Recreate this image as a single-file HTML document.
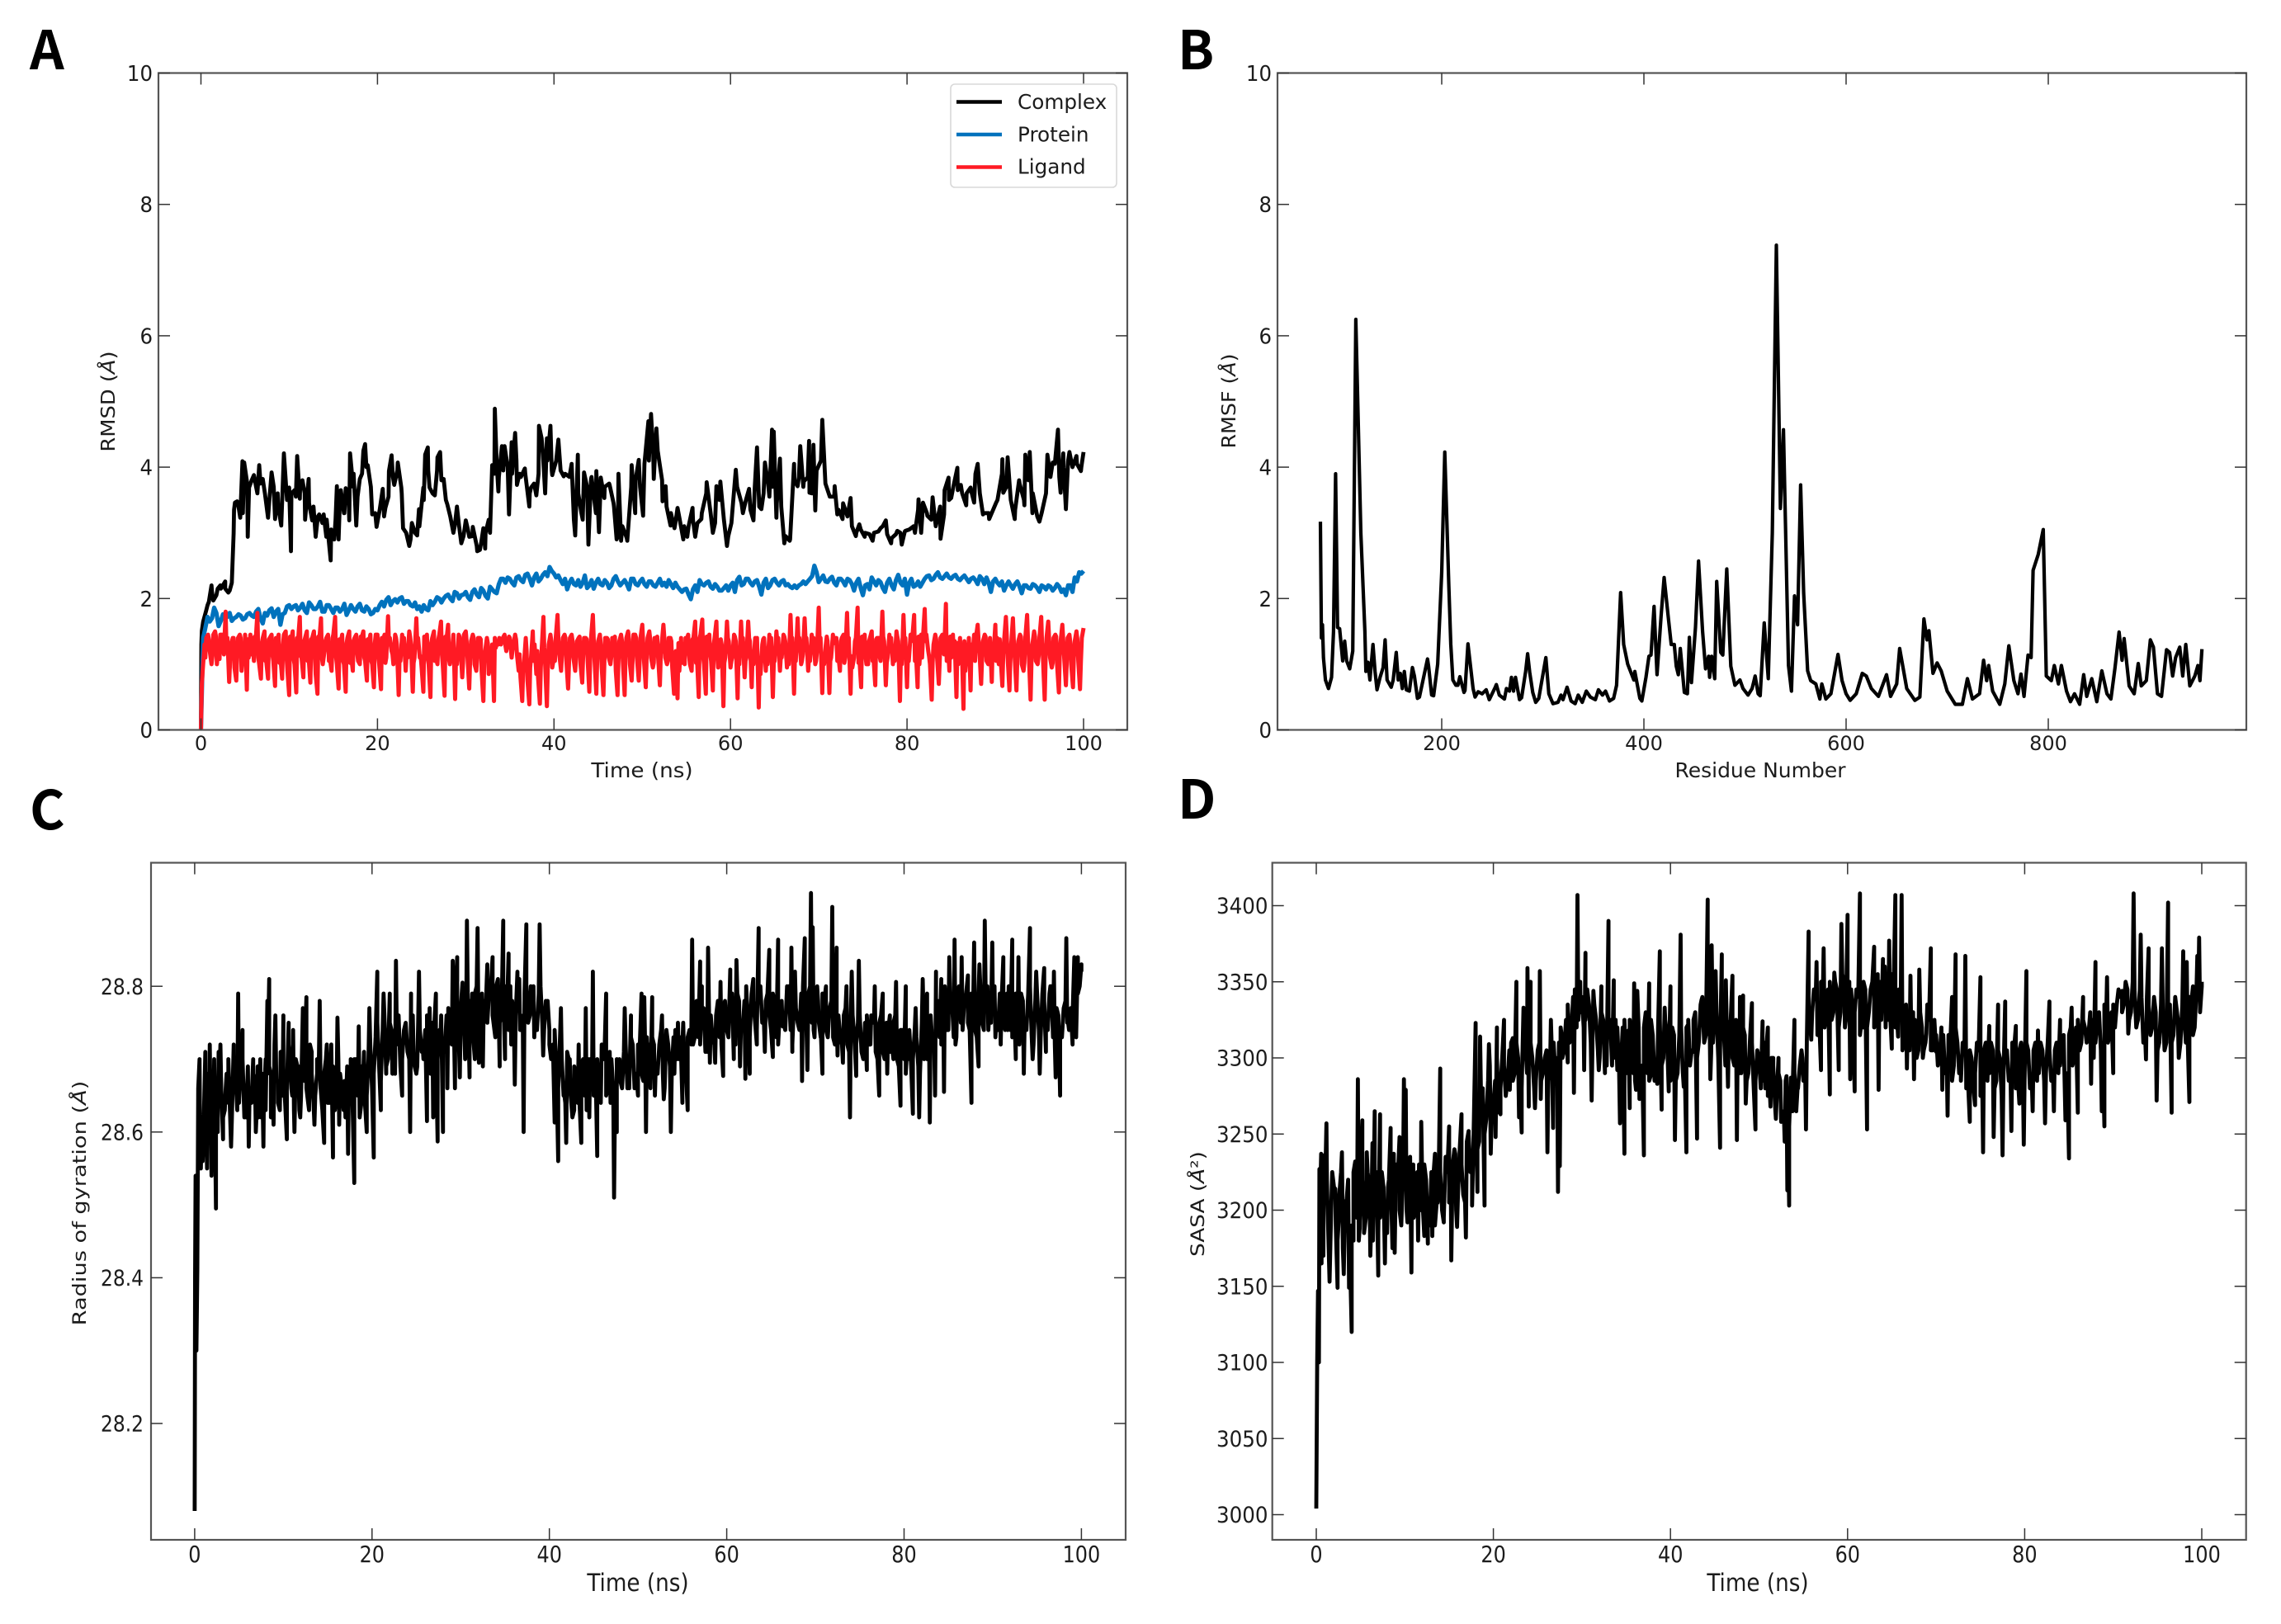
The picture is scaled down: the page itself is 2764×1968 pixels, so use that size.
<!DOCTYPE html>
<html lang="en">
<head>
<meta charset="utf-8">
<title>Molecular dynamics analysis panels</title>
<style>
html,body{margin:0;padding:0;background:#fff;}
svg{display:block;}
text{font-family:"DejaVu Sans","Liberation Sans",sans-serif;fill:#1c1c1c;}
.panel-letter{font-family:"Noto Sans CJK JP","Liberation Sans",sans-serif;font-weight:700;font-size:65px;fill:#000;}
</style>
</head>
<body>
<svg id="figure" xmlns="http://www.w3.org/2000/svg" width="2764" height="1968" viewBox="0 0 2764 1968">
<rect x="0" y="0" width="2764" height="1968" fill="#fff"/>
<text class="panel-letter" x="36" y="84">A</text>
<text class="panel-letter" x="1427" y="84">B</text>
<text class="panel-letter" x="36" y="1005">C</text>
<text class="panel-letter" x="1427" y="992">D</text>

<g id="panel-a"></g>
<g id="panel-b"></g>
<g id="panel-c"></g>
<g id="panel-d"></g>

<text transform="translate(778,942) scale(1.05,1)" font-size="25" text-anchor="middle">Time (ns)</text>
<text transform="translate(139,486.5) rotate(-90) scale(1.12,1)" font-size="23" text-anchor="middle">RMSD (<tspan font-style="italic">Å</tspan>)</text>
<text transform="translate(2133,942)" font-size="25" text-anchor="middle">Residue Number</text>
<text transform="translate(1497,486) rotate(-90) scale(1.1,1)" font-size="23" text-anchor="middle">RMSF (<tspan font-style="italic">Å</tspan>)</text>
<text transform="translate(773,1928) scale(.89,1)" font-size="29.5" text-anchor="middle">Time (ns)</text>
<text transform="translate(104,1458) rotate(-90) scale(1.21,1)" font-size="22.5" text-anchor="middle">Radius of gyration (<tspan font-style="italic">Å</tspan>)</text>
<text transform="translate(2130,1928) scale(.89,1)" font-size="29.5" text-anchor="middle">Time (ns)</text>
<text transform="translate(1459,1459) rotate(-90) scale(1.17,1)" font-size="22.5" text-anchor="middle">SASA (<tspan font-style="italic">Å</tspan>²)</text>

<g id="legend-layer">
<rect x="1152" y="102" width="201" height="125" rx="5" ry="5" fill="#fff" fill-opacity=".85" stroke="#d8d8d8" stroke-width="1.6"/>
<line x1="1159" x2="1214" y1="123.5" y2="123.5" stroke="#000" stroke-width="4.6"/>
<line x1="1159" x2="1214" y1="163" y2="163" stroke="#0072bd" stroke-width="4.6"/>
<line x1="1159" x2="1214" y1="202.5" y2="202.5" stroke="#ff1a24" stroke-width="4.6"/>
<text x="1233" y="132" font-size="24.7">Complex</text>
<text x="1233" y="171.5" font-size="24.7">Protein</text>
<text x="1233" y="210.5" font-size="24.7">Ligand</text>
</g>
</svg>

<script>
/* ---------- chart data ---------- */
const timeTicks=[0,20,40,60,80,100];
const residueTicks=[200,400,600,800];
const deviationTicks=[0,2,4,6,8,10];
const gyrationTicks=[28.2,28.4,28.6,28.8];
const sasaTicks=[3000,3050,3100,3150,3200,3250,3300,3350,3400];

/* RMSD complex: peaks and dips as [time ns, value] */
const complexSeries=[[0,0],[.05,1.3],[.1,1.51],[.6,1.82],[.9,1.95],[1.2,2.2],[1.4,1.97],[1.9,2.15],[2.2,2.2],[2.75,2.26],[3.1,2.09],[3.5,2.24],[3.7,2.99],[3.85,3.46],[4.1,3.48],[4.45,3.23],[4.7,4.09],[4.9,4.07],[5.3,2.94],[5.45,3.69],[6,3.88],[6.4,3.6],[6.6,4.03],[7,3.82],[7.6,3.23],[8,3.92],[8.4,3.21],[8.7,3.6],[9.1,3.11],[9.4,4.21],[9.8,3.65],[10,3.69],[10.2,2.72],[10.6,3.65],[10.9,4.17],[11.2,3.52],[11.5,3.8],[11.8,3.2],[12.2,3.82],[12.6,3.19],[13,2.94],[13.4,3.28],[13.9,3.28],[14.2,2.94],[14.7,2.58],[15.1,2.9],[15.4,3.71],[15.6,2.9],[15.85,3.65],[16.2,3.3],[16.4,3.68],[16.8,3.19],[16.9,4.21],[17.3,3.9],[17.6,3.11],[18,3.82],[18.4,4.25],[18.6,4.35],[18.9,4.03],[19.4,3.28],[19.9,3.09],[20.6,3.67],[20.9,3.38],[21.3,3.94],[21.6,4.18],[21.9,3.73],[22.3,4.07],[22.7,3.69],[22.9,3.07],[23.6,2.8],[23.9,3.15],[24.5,2.96],[24.7,3.36],[25.2,3.69],[25.4,4.19],[25.7,4.3],[25.9,3.69],[26.5,3.57],[26.8,4.15],[27.1,4.23],[27.5,3.82],[27.9,3.44],[28.6,3],[29,3.4],[29.5,2.84],[30,3.19],[30.4,2.94],[30.8,3.09],[31.3,2.72],[31.6,2.74],[32,3.07],[32.2,2.76],[32.6,3.2],[33,4.03],[33.3,4.89],[33.5,4.07],[33.7,3.63],[34.1,4.32],[34.4,4.32],[34.9,3.28],[35.2,4.38],[35.6,4.52],[35.8,3.73],[36.1,3.9],[36.7,3.98],[37.2,3.4],[37.4,3.69],[38,3.57],[38.3,4.63],[38.6,4.44],[39,3.6],[39.2,4.44],[39.6,4.63],[39.8,3.88],[40.5,4.42],[41.1,3.86],[42,4.05],[42.4,2.96],[42.7,4.19],[43.1,3.3],[43.4,3.92],[43.9,2.82],[44.2,3.82],[44.8,3.94],[45.1,3.01],[45.3,3.84],[45.7,3.53],[46.3,3.73],[46.8,3.4],[47.1,2.9],[47.3,3.9],[47.6,2.88],[48.3,2.88],[48.8,4.03],[49.2,3.3],[49.6,4.11],[50.1,3.26],[50.7,4.7],[51,4.81],[51.3,3.82],[51.6,4.59],[51.9,4.11],[52.3,3.48],[52.65,3.71],[53.2,3.11],[53.65,3.07],[54,3.38],[54.65,2.9],[55.1,2.94],[55.7,3.38],[56,2.94],[56.7,3.21],[57.3,3.77],[58,3],[58.4,3.71],[58.85,3.78],[59.6,2.8],[60.1,3.15],[60.6,3.96],[61.4,3.3],[62.1,3.67],[62.6,3.19],[63,4.3],[63.5,3.36],[63.9,4.07],[64.4,3.55],[64.7,4.57],[64.9,4.54],[65.2,3.23],[65.6,4.13],[66.1,2.84],[66.7,2.88],[67.2,4.05],[67.6,3.71],[67.9,4.32],[68.3,3.78],[68.9,4.4],[68.95,3.61],[69.4,4.34],[69.6,3.34],[70.4,4.72],[70.9,3.69],[71.8,3.71],[72.1,3.28],[72.7,3.21],[73.6,3.53],[74.2,2.95],[74.6,3.13],[75.2,2.94],[76.1,2.88],[77,3.07],[77.6,3.19],[78.2,2.84],[78.9,3.03],[79.4,2.82],[79.8,3.03],[80.9,3],[81.3,3.51],[81.6,3],[81.8,3.46],[82.3,3.26],[82.9,3.54],[83.8,2.91],[84.2,3.28],[84.7,3.84],[85,3.53],[85.7,3.99],[86.1,3.73],[86.7,3.42],[87.2,3.69],[87.6,3.46],[88,4.05],[88.6,3.28],[89.3,3.21],[90.1,3.46],[90.8,4.12],[90.9,3.61],[91.4,4.15],[92.2,3.21],[92.7,3.8],[93.3,3.42],[93.4,4.19],[93.9,4.23],[94.2,3.3],[95,3.17],[95.9,4.19],[96.5,4.07],[97.1,4.57],[97.4,3.61],[97.7,4.21],[98,3.36],[98.4,4.23],[99.2,4.17],[99.7,3.94],[100,4.23]];
/* RMSD complex: typical level at 0.25, 0.75, 1.25 ... ns */
const complexBandStart=0.25;
const complexBandStep=0.5;
const complexBandValues=[1.65,1.9,2.1,2.05,2.15,2.15,2.12,3.35,3.4,3.3,
3.75,3.8,3.7,3.75,3.6,3.5,3.7,3.4,3.65,3.5,
3.6,3.55,3.75,3.6,3.45,3.4,3.25,3.15,3.2,3.05,
3.2,3.5,3.3,3.45,3.7,3.55,3.9,4,3.7,3.3,
3.35,3.25,3.55,3.85,3.95,3.6,3,2.9,3,3.1,
3.5,3.95,3.6,3.95,3.8,3.5,3.25,3.1,3.1,2.95,
3.05,2.95,2.8,2.85,3,3,3.9,3.85,3.95,4,
3.9,4.1,3.85,3.9,3.6,3.75,3.9,4.2,4.1,3.95,
4.1,3.95,3.9,3.85,3.2,3.6,3.2,3.7,3.85,3.3,
3.6,3.7,3.75,3.45,2.95,3.1,2.92,3.7,3.8,3.7,
4.05,4.1,4.2,4.25,3.8,3.4,3.3,3.15,3.2,3.1,
3.1,3.2,3.15,3.3,3.6,3.3,3.15,3.5,3.2,2.95,
3.4,3.7,3.45,3.5,3.35,3.7,3.4,3.6,3.75,3.7,
3.45,3.4,2.95,2.9,3.8,3.85,3.7,3.85,3.6,3.95,
4.1,3.75,3.55,3.55,3.35,3.45,3.25,3.1,3,3.05,
3,2.98,3,3.02,3.1,2.98,2.92,2.98,3,3.02,
3.05,3.1,3.35,3.3,3.3,3.2,3.1,3.4,3.65,3.5,
3.7,3.65,3.6,3.6,3.65,3.9,3.6,3.3,3.3,3.35,
3.5,3.9,3.7,3.5,3.35,3.75,3.5,3.8,3.6,3.25,
3.3,3.6,3.85,4.05,3.85,4,4.1,4,4.05,4];

/* RMSD protein: one value per 0.5 ns */
const proteinStepNs=0.5;
const proteinValues=[0,1.55,1.65,1.86,1.58,1.76,1.72,1.66,1.72,1.74,
1.7,1.78,1.72,1.84,1.62,1.74,1.85,1.8,1.6,1.78,
1.9,1.88,1.82,1.92,1.78,1.9,1.84,1.95,1.8,1.9,
1.78,1.86,1.84,1.75,1.9,1.8,1.92,1.8,1.84,1.78,
1.82,1.95,1.98,1.9,1.99,2,1.92,1.96,1.88,1.84,
1.8,1.84,1.96,1.95,2,2,2.06,1.96,2.08,2.05,
2.1,1.98,2.14,2.02,2.12,2,2.14,2.08,2.3,2.24,
2.3,2.2,2.34,2.25,2.38,2.2,2.38,2.3,2.4,2.48,
2.38,2.35,2.22,2.14,2.3,2.2,2.18,2.35,2.2,2.15,
2.3,2.2,2.24,2.2,2.34,2.2,2.28,2.14,2.3,2.2,
2.3,2.18,2.26,2.18,2.3,2.24,2.28,2.16,2.18,2.1,
2.15,1.99,2.2,2.28,2.2,2.26,2.15,2.18,2.12,2.2,
2.2,2.1,2.33,2.22,2.3,2.2,2.28,2.06,2.3,2.2,
2.3,2.2,2.28,2.22,2.16,2.16,2.22,2.22,2.3,2.5,
2.25,2.35,2.25,2.33,2.2,2.3,2.2,2.28,2.12,2.3,
2.05,2.22,2.32,2.2,2.25,2.1,2.3,2.14,2.36,2.2,
2.06,2.3,2.2,2.18,2.3,2.35,2.3,2.4,2.3,2.38,
2.3,2.36,2.28,2.35,2.25,2.32,2.22,2.3,2.32,2.1,
2.3,2.2,2.12,2.26,2.15,2.26,2.08,2.2,2.15,2.2,
2.1,2.18,2.2,2.12,2.22,2.1,2.05,2.2,2.32,2.4,2.42];
/* RMSD protein: in-between readings at 0.25, 0.75 ... ns */
const proteinBandStart=0.25;
const proteinBandStep=0.5;
const proteinBandValues=[1.4,1.72,1.7,1.78,1.66,1.74,1.78,1.7,1.76,1.68,
1.76,1.74,1.8,1.7,1.78,1.82,1.72,1.84,1.76,1.88,
1.84,1.9,1.86,1.82,1.94,1.84,1.88,1.8,1.9,1.84,
1.86,1.8,1.92,1.82,1.84,1.88,1.82,1.88,1.76,1.84,
1.9,1.88,2.02,1.96,1.94,2.02,1.96,1.9,1.94,1.88,
1.9,1.82,1.9,2.02,1.94,2.04,2,2.1,2,2.06,
2.02,2.1,2.06,2.16,2.04,2.18,2.1,2.22,2.3,2.32,
2.24,2.32,2.28,2.36,2.3,2.32,2.26,2.36,2.34,2.42,
2.32,2.28,2.3,2.24,2.22,2.28,2.24,2.16,2.28,2.24,
2.22,2.28,2.16,2.3,2.26,2.24,2.22,2.3,2.22,2.26,
2.22,2.26,2.2,2.24,2.2,2.18,2.22,2.24,2.14,2.14,
2.06,2.14,2.1,2.22,2.24,2.18,2.22,2.12,2.16,2.12,
2.24,2.28,2.2,2.3,2.24,2.26,2.18,2.24,2.16,2.28,
2.24,2.26,2.2,2.18,2.2,2.2,2.26,2.26,2.34,2.4,
2.3,2.26,2.3,2.24,2.3,2.26,2.3,2.22,2.24,2.16,
2.2,2.14,2.26,2.28,2.16,2.24,2.2,2.28,2.24,2.3,
2.24,2.18,2.26,2.24,2.34,2.28,2.36,2.32,2.34,2.32,
2.34,2.3,2.32,2.3,2.3,2.28,2.34,2.22,2.24,2.26,
2.24,2.26,2.2,2.2,2.22,2.18,2.2,2.16,2.22,2.16,
2.2,2.14,2.18,2.16,2.18,2.14,2.2,2.1,2.26,2.38];

/* RMSD ligand: one value per 0.4 ns */
const ligandStepNs=0.4;
const ligandValues=[0,1.3,1.45,1,1.5,
1.25,1.45,1.8,.73,1.4,
.75,1.45,1.25,.61,1.45,
1.05,1.78,.78,1.5,.78,
1.45,.67,1.45,.78,1.5,
.53,1.5,.57,1.72,.8,
1.5,.72,1.5,.55,1.7,
1.2,1.45,.9,1.72,.63,
1.45,.58,1.5,.9,1.45,
1,1.5,.75,1.45,.65,
1.45,.62,1.45,1.73,1.2,
1.45,.53,1.45,.9,1.5,
.58,1.7,1.1,.58,1.45,
.5,1.5,1,1.65,.52,
1.6,1.2,.47,1.45,.8,
1.5,.63,1.45,.9,1.4,
.44,1.4,1,.44,1.35,
1.3,1.45,1.35,1.1,1.45,
.9,.44,1.4,.39,1.5,
.85,.4,1.72,.36,1.45,
1.1,1.75,.9,1.45,.63,
1.45,.9,1.4,.72,1.4,
.58,1.75,.55,1.45,.53,
1.4,1,1.4,.53,1.45,
.53,1.5,.75,1.45,.75,
1.6,.65,1.5,.95,1.4,
.68,1.6,1,1.4,.55,
.48,1.4,1,1.45,.9,
1.65,.5,1.68,.55,1.45,
.6,1.65,1.1,.36,1.65,
.95,1.45,.48,1.65,.8,
1.65,.65,1.4,.34,1.3,
.9,1.45,.5,1.5,.9,
1.45,.95,1.75,.55,1.7,
1,1.7,.9,1.45,1,
1.86,.56,1.3,.56,1.45,
1.4,.9,1.45,1.78,.55,
1.1,1.86,.65,1.45,1,
1.5,.68,1.4,1.8,.68,
1.45,1,1.5,.44,1.75,
.65,1.45,1.75,.65,1.45,
1.84,1.2,.46,1.45,.7,
1.45,1.92,.9,1.45,.5,
1.4,.32,1.3,.6,1.45,
1.6,.7,1.45,1,.73,
1.6,1,.67,1.72,.6,
1.7,.6,1.45,.9,1.75,
.46,1.5,1,1.72,.46,
1.65,.95,1.45,.57,1.6,
.68,1.45,.65,1.5,.62,
1.55];
/* RMSD ligand: solid core readings at 0.2, 0.6 ... ns */
const ligandBandStart=0.2;
const ligandBandStep=0.4;
const ligandBandValues=[.9,1.4,1.2,1.45,1,
1.45,1.15,1.4,1.3,.95,
1.4,.9,1.45,1.1,1.4,
1.35,1,1.4,1.05,1.4,
1.05,1.3,1.1,1.45,.9,
1.35,1,1.35,1.1,1.4,
1.1,1.4,.85,1.35,1,
1.4,1.1,1.45,1,1.3,
1,1.4,1.15,1.4,1.05,
1.4,1.05,1.3,1,1.45,
1,1.35,1.1,1.4,1,
1.3,1.05,1.4,1.1,1.3,
1.1,1.4,.95,1.3,1,
1.4,1.1,1.45,1,1.35,
1,1.45,1,1.3,1.45,
1.1,1.35,1,1.4,.9,
1.2,.85,1.3,1.25,1.4,
1.4,1.2,1.4,1.3,1.15,
.8,1,.75,1.1,1.3,
.8,1.2,1,1.3,.95,
1.4,1.15,1.4,1.05,1.4,
1.1,1.35,1,1.4,1.1,
1.4,1.05,1.35,.95,1.4,
1.1,1.4,.9,1.35,1.05,
1.4,1,1.45,1.1,1.4,
1.05,1.4,1.1,1.4,1.1,
1.3,1.1,1.4,.95,1.2,
.9,1.25,1.35,1,1.4,
1.1,1.45,1,1.35,1.05,
1.4,.95,1.3,1.1,1.35,
1.1,1.35,1,1.4,1.1,
1.35,1,1.4,.85,1.4,
1,1.4,1.05,1.4,1.1,
1.35,1,1.4,1.05,1.4,
1.15,1.4,1.05,1.4,1.2,
1.4,1,1.35,1.1,1.4,
1.15,1.4,1.1,1.4,.95,
1.4,1.1,1.35,1,1.4,
1.1,1.4,1.05,1.35,1.1,
1.4,1.05,1.35,1,1.4,
1.05,1.4,1.2,1,1.4,
1.45,1,1.3,1.1,1.4,
1.15,1.4,1.1,1.35,1,
1.3,.9,1.4,1.1,1.4,
1.2,1.35,1.05,1.4,1.15,
1.4,1.1,1.35,1.1,1.3,
1.1,1.35,1,1.4,1.15,
1.3,1.05,1.4,1.1,1.4,
1.1,1.4,1,1.35,1.1,
1.4,1,1.35,1.05,1.4];
/* RMSD ligand: extra core readings at 0.1, 0.5 ... ns */
const ligandFillStart=0.1;
const ligandFillStep=0.4;
const ligandFillValues=[.7,1.1,1.38,1.12,1.42,
1.08,1.36,1.18,1.05,1.4,
1.12,1.4,1.02,1.38,1.15,
1.42,1.1,1.32,1.05,1.38,
1.15,1.4,1.02,1.3,1.12,
1.42,1.08,1.4,1.12,1.35,
1.05,1.38,1.15,1.42,1.1,
1.35,1.05,1.4,1.12,1.38,
1.05,1.32,1.02,1.36,1.18,
1.42,1.1,1.38,1.05,1.32,
1.12,1.4,1.02,1.32,1.15,
1.4,1.08,1.3,1.15,1.42,
1.02,1.36,1.12,1.42,1.08,
1.32,1.05,1.38,1.15,1.42,
1.08,1.3,1.15,1.42,1.02,
1.35,1.08,1.4,1.12,1.38,
1.05,1.32,1.1,1.4,1.3,
1.35,1.28,1.42,1.22,1.38,
1.15,.9,1.2,.95,1.05,
1.2,.95,1.25,.95,1.35,
1.05,1.38,1.12,1.4,1.02,
1.35,1.08,1.42,1.12,1.38,
1.05,1.4,1.1,1.3,1.02,
1.38,1.12,1.42,1.05,1.35,
1.1,1.38,1.05,1.4,1.02,
1.35,1.12,1.38,1.02,1.42,
1.15,1.4,1.05,1.35,1.08,
1.32,1.02,1.4,1.15,1.38,
1.02,1.4,1.12,1.42,1.15,
1.3,1.12,1.38,1.02,1.4,
1.05,1.42,1.12,1.35,1.05,
1.4,1.15,1.32,1.05,1.38,
1.15,1.32,1.02,1.35,1.12,
1.42,1.08,1.38,1.15,1.35,
1.05,1.38,1.12,1.35,1.05,
1.32,1.12,1.42,1.05,1.32,
1.05,1.35,1.02,1.36,1.12,
1.35,1.02,1.42,1.12,1.35,
1.05,1.38,1.12,1.42,1.02,
1.32,1.15,1.42,1.12,1.35,
1.15,1.35,1.05,1.42,1.1,
1.35,1.12,1.02,1.38,1.05,
1.36,1.05,1.42,1.12,1.32,
1.1,1.35,1.02,1.3,1.05,
1.38,1.08,1.42,1.12,1.3,
1.05,1.38,1.15,1.42,1.02,
1.35,1.12,1.42,1.02,1.38,
1.05,1.42,1.12,1.32,1.08,
1.38,1.02,1.42,1.12,1.36,
1.05,1.32,1.1,1.38,1.05];

/* RMSF: [residue, value] */
const rmsfSeries=[[80,3.17],[81,1.4],[82,1.6],[83,1.1],[85,.76],[88,.63],[91,.8],[93,1.5],[95,3.9],[97,1.56],[99,1.54],[102,1.05],[104,1.35],[106,1.05],[109,.93],[112,1.2],[115,6.25],[120,3],[124,1.5],[125,.89],[127,1.03],[129,.76],[132,1.3],[134,.89],[136,.61],[139,.8],[142,.95],[144,1.37],[146,.76],[150,.65],[152,.76],[155,1.18],[157,.76],[159,.86],[161,.63],[163,.89],[165,.61],[168,.59],[171,.95],[173,.82],[176,.48],[178,.5],[186,1.08],[187,.97],[190,.53],[192,.52],[196,1],[200,2.4],[203,4.23],[207,2.2],[209,1.3],[211,.76],[214,.68],[216,.68],[218,.81],[222,.57],[223,.6],[226,1.31],[231,.63],[233,.5],[236,.58],[240,.55],[244,.61],[247,.46],[253,.65],[254,.69],[257,.53],[262,.47],[264,.63],[267,.59],[269,.8],[271,.59],[273,.8],[277,.46],[279,.49],[283,.89],[285,1.16],[287,.88],[290,.57],[293,.42],[296,.48],[303,1.1],[306,.55],[310,.4],[315,.42],[318,.53],[320,.46],[324,.65],[328,.44],[332,.4],[335,.53],[339,.42],[343,.59],[347,.5],[352,.46],[355,.61],[359,.53],[362,.59],[366,.44],[370,.48],[373,.68],[377,2.09],[380,1.3],[384,1],[390,.76],[391,.89],[396,.48],[398,.44],[402,.8],[405,1.12],[407,1.14],[410,1.88],[413,.84],[417,1.73],[420,2.32],[424,1.73],[427,1.3],[430,1.3],[432,.97],[434,.84],[436,1.24],[440,.57],[443,.55],[445,1.41],[447,.72],[451,1.56],[454,2.57],[458,1.5],[461,.93],[464,1.12],[465,.8],[467,1.12],[470,.78],[472,2.26],[476,1.18],[478,1.14],[482,2.45],[486,.97],[490,.68],[495,.76],[498,.63],[503,.53],[507,.63],[510,.82],[513,.55],[515,.52],[519,1.63],[523,.78],[527,3],[531,7.38],[535,3.37],[538,4.57],[543,.98],[546,.59],[549,2.04],[552,1.6],[555,3.73],[558,2.08],[562,.9],[565,.75],[570,.7],[574,.47],[576,.7],[580,.47],[585,.55],[592,1.15],[596,.75],[600,.55],[604,.45],[610,.55],[616,.86],[620,.82],[625,.63],[632,.51],[640,.84],[644,.51],[650,.7],[653,1.24],[660,.63],[668,.45],[673,.5],[677,1.69],[680,1.37],[682,1.51],[686,.86],[690,1.02],[694,.9],[700,.59],[708,.39],[715,.39],[720,.78],[725,.47],[732,.55],[736,1.06],[739,.75],[741,.98],[745,.59],[752,.39],[757,.7],[761,1.28],[766,.75],[770,.55],[773,.85],[776,.51],[780,1.14],[783,1.1],[785,2.43],[790,2.67],[795,3.05],[798,.82],[803,.75],[806,.98],[810,.7],[813,.98],[818,.59],[822,.43],[826,.55],[831,.39],[835,.84],[838,.51],[843,.78],[848,.43],[853,.9],[858,.55],[862,.47],[866,.94],[870,1.49],[873,1.06],[875,1.39],[880,.67],[885,.55],[889,1.01],[892,.67],[897,.75],[901,1.37],[904,1.26],[908,.55],[912,.51],[917,1.22],[920,1.18],[923,.82],[926,1.1],[930,1.26],[933,.82],[936,1.3],[940,.67],[945,.82],[948,.98],[950,.75],[952,1.23]];

/* Radius of gyration: peaks and dips as [time ns, value] */
const gyrationSeries=[[0,28.08],[.05,28.4],[.1,28.54],[.3,28.41],[.55,28.7],[.7,28.55],[.9,28.56],[1.2,28.71],[1.4,28.55],[1.7,28.72],[1.9,28.54],[2.1,28.6],[2.4,28.495],[2.7,28.71],[2.9,28.72],[3.2,28.59],[3.5,28.66],[3.8,28.64],[4.1,28.58],[4.4,28.72],[4.6,28.66],[4.9,28.79],[5,28.64],[5.2,28.7],[5.4,28.74],[5.8,28.65],[6.1,28.58],[6.4,28.64],[6.6,28.7],[6.9,28.6],[7.1,28.69],[7.5,28.62],[7.75,28.58],[8,28.7],[8.2,28.78],[8.4,28.81],[8.6,28.68],[8.9,28.61],[9.1,28.76],[9.4,28.67],[9.7,28.71],[9.9,28.65],[10,28.76],[10.4,28.59],[10.6,28.75],[10.9,28.66],[11.1,28.74],[11.25,28.6],[11.7,28.69],[11.9,28.62],[12.2,28.77],[12.4,28.67],[12.6,28.785],[12.9,28.63],[13.2,28.71],[13.5,28.61],[13.8,28.68],[14.1,28.78],[14.6,28.585],[14.9,28.72],[15.2,28.64],[15.6,28.565],[16.1,28.757],[16.3,28.61],[16.6,28.66],[16.9,28.67],[17.3,28.57],[17.6,28.7],[18,28.53],[18.2,28.66],[18.5,28.745],[18.8,28.64],[19.1,28.71],[19.4,28.6],[19.7,28.77],[20.2,28.565],[20.6,28.82],[21,28.63],[21.3,28.79],[21.6,28.68],[22,28.79],[22.3,28.68],[22.7,28.835],[23,28.72],[23.4,28.65],[23.8,28.75],[24.3,28.6],[24.4,28.79],[24.7,28.7],[25.1,28.69],[25.3,28.82],[25.7,28.72],[26.2,28.615],[26.5,28.77],[26.9,28.62],[27.2,28.79],[27.4,28.587],[27.7,28.72],[28,28.6],[28.1,28.72],[28.5,28.66],[29.1,28.835],[29.35,28.66],[29.6,28.84],[29.9,28.675],[30.2,28.805],[30.5,28.7],[30.7,28.89],[31,28.675],[31.3,28.79],[31.6,28.7],[31.9,28.88],[32.05,28.695],[32.5,28.69],[33,28.83],[33.6,28.84],[33.9,28.73],[34.4,28.69],[34.8,28.89],[35,28.7],[35.4,28.845],[35.7,28.72],[36.1,28.665],[36.4,28.82],[36.7,28.74],[37.1,28.6],[37.4,28.885],[37.9,28.8],[38.3,28.73],[38.9,28.885],[39.3,28.705],[39.6,28.78],[40,28.74],[40.6,28.613],[41,28.56],[41.3,28.77],[41.6,28.65],[41.9,28.585],[42.3,28.7],[42.8,28.63],[43.3,28.72],[43.6,28.585],[44.1,28.77],[44.5,28.62],[44.9,28.82],[45.4,28.567],[45.9,28.72],[46.4,28.79],[46.9,28.64],[47.3,28.51],[47.6,28.6],[47.9,28.7],[48.5,28.77],[48.8,28.66],[49.2,28.76],[49.6,28.66],[50,28.65],[50.4,28.79],[50.7,28.785],[50.9,28.6],[51.3,28.72],[51.6,28.785],[51.9,28.65],[52.3,28.7],[52.7,28.76],[52.9,28.645],[53.3,28.73],[53.7,28.6],[54.1,28.68],[54.5,28.75],[55,28.64],[55.1,28.75],[55.6,28.63],[56.1,28.864],[56.4,28.73],[57,28.834],[57.2,28.8],[57.6,28.71],[57.9,28.853],[58.1,28.695],[58.7,28.695],[59.3,28.806],[59.6,28.677],[60,28.74],[60.4,28.823],[60.8,28.7],[61.1,28.836],[61.5,28.69],[62.1,28.673],[62.6,28.68],[63,28.81],[63.4,28.72],[63.6,28.88],[64.3,28.71],[64.8,28.85],[65.2,28.703],[65.8,28.864],[66.3,28.745],[66.8,28.8],[67.3,28.853],[67.4,28.71],[67.7,28.82],[68.1,28.745],[68.5,28.67],[68.8,28.866],[69.1,28.685],[69.5,28.928],[69.7,28.881],[69.9,28.73],[70.3,28.78],[70.6,28.73],[70.8,28.68],[71.2,28.8],[71.9,28.909],[72.4,28.853],[72.5,28.705],[73.1,28.695],[73.5,28.8],[73.9,28.62],[74.1,28.82],[74.6,28.677],[74.9,28.835],[75.2,28.71],[75.8,28.685],[76.3,28.76],[76.7,28.8],[77.2,28.65],[77.6,28.79],[78.1,28.68],[78.4,28.76],[78.8,28.7],[79.1,28.806],[79.6,28.636],[80.2,28.8],[80.6,28.7],[81,28.625],[81.3,28.77],[81.7,28.62],[82.1,28.81],[82.25,28.7],[82.6,28.79],[82.9,28.613],[83.5,28.65],[83.6,28.82],[84.2,28.81],[84.5,28.655],[85.1,28.84],[85.7,28.864],[85.9,28.73],[86.5,28.84],[87.2,28.815],[87.6,28.64],[87.9,28.86],[88.4,28.69],[88.5,28.83],[89.1,28.89],[89.5,28.74],[89.95,28.86],[90.3,28.73],[90.9,28.72],[91.2,28.84],[91.7,28.74],[92.2,28.864],[92.6,28.7],[92.9,28.84],[93.5,28.68],[94.2,28.88],[94.5,28.7],[94.9,28.82],[95.3,28.68],[95.8,28.825],[96,28.71],[96.5,28.8],[96.9,28.82],[97.1,28.675],[97.6,28.65],[98.3,28.866],[98.5,28.75],[99,28.72],[99.2,28.84],[99.6,28.84],[100,28.83]];
/* Radius of gyration: dense core readings at 0.2, 0.6 ... ns */
const gyrationBandStart=0.2;
const gyrationBandStep=0.4;
const gyrationBandValues=[28.3,28.62,28.6,28.68,28.62,28.7,28.6,28.66,28.63,28.7,28.62,28.68,28.64,28.7,28.62,28.66,28.68,28.63,28.7,28.64,28.68,28.62,28.72,28.64,28.7,
28.64,28.72,28.65,28.7,28.63,28.68,28.66,28.72,28.64,28.7,28.66,28.68,28.64,28.72,28.63,28.7,28.66,28.62,28.68,28.64,28.7,28.62,28.68,28.65,28.72,
28.68,28.75,28.67,28.76,28.7,28.74,28.68,28.76,28.7,28.75,28.7,28.76,28.68,28.74,28.7,28.76,28.68,28.74,28.7,28.76,28.71,28.77,28.72,28.78,28.72,
28.79,28.72,28.78,28.73,28.8,28.74,28.78,28.75,28.8,28.74,28.81,28.76,28.8,28.74,28.78,28.76,28.81,28.75,28.8,28.76,28.8,28.74,28.8,28.74,28.78,
28.7,28.74,28.66,28.7,28.64,28.7,28.62,28.68,28.64,28.7,28.63,28.7,28.65,28.7,28.64,28.7,28.66,28.7,28.64,28.68,28.66,28.72,28.66,28.72,28.68,
28.72,28.67,28.73,28.66,28.72,28.68,28.74,28.66,28.72,28.68,28.74,28.7,28.72,28.68,28.74,28.72,28.78,28.72,28.77,28.71,28.76,28.72,28.78,28.72,28.78,
28.73,28.79,28.72,28.78,28.74,28.8,28.73,28.78,28.74,28.8,28.75,28.79,28.74,28.78,28.72,28.78,28.74,28.8,28.72,28.77,28.74,28.8,28.74,28.8,28.74,
28.8,28.74,28.78,28.73,28.78,28.72,28.76,28.72,28.77,28.71,28.76,28.72,28.76,28.7,28.76,28.72,28.75,28.7,28.76,28.7,28.74,28.72,28.76,28.69,28.74,
28.68,28.74,28.7,28.73,28.68,28.76,28.7,28.76,28.72,28.78,28.72,28.8,28.74,28.78,28.72,28.8,28.74,28.79,28.74,28.78,28.73,28.8,28.74,28.8,28.75,
28.8,28.74,28.78,28.74,28.8,28.73,28.79,28.72,28.78,28.74,28.8,28.72,28.79,28.73,28.78,28.74,28.8,28.72,28.76,28.73,28.78,28.74,28.76,28.73,28.8];
/* Radius of gyration: extra core readings at 0.4, 0.8 ... ns */
const gyrationFillStart=0.4;
const gyrationFillStep=0.4;
const gyrationFillValues=[28.66,28.61,28.66,28.62,28.67,28.63,28.68,28.62,28.68,28.62,28.69,28.63,28.68,28.62,28.69,28.64,28.67,28.62,28.68,28.63,28.69,28.65,28.67,28.63,28.68,
28.66,28.69,28.63,28.69,28.65,28.71,28.64,28.68,28.65,28.69,28.63,28.7,28.66,28.69,28.65,28.68,28.63,28.69,28.64,28.7,28.65,28.69,28.64,28.7,28.66,
28.73,28.69,28.74,28.69,28.75,28.7,28.73,28.69,28.74,28.71,28.74,28.69,28.75,28.71,28.74,28.69,28.75,28.71,28.74,28.72,28.76,28.73,28.77,28.73,28.77,
28.74,28.79,28.74,28.79,28.75,28.79,28.76,28.79,28.76,28.8,28.75,28.79,28.76,28.8,28.75,28.79,28.76,28.79,28.75,28.79,28.76,28.79,28.75,28.77,28.72,
28.72,28.68,28.73,28.66,28.71,28.65,28.69,28.64,28.69,28.65,28.7,28.66,28.69,28.65,28.7,28.65,28.71,28.66,28.7,28.67,28.71,28.67,28.73,28.68,28.72,
28.68,28.72,28.68,28.73,28.69,28.72,28.68,28.74,28.69,28.73,28.7,28.73,28.7,28.73,28.72,28.77,28.73,28.77,28.72,28.77,28.73,28.76,28.73,28.77,28.74,
28.78,28.74,28.79,28.74,28.78,28.75,28.79,28.75,28.79,28.75,28.78,28.76,28.79,28.73,28.77,28.75,28.79,28.74,28.78,28.75,28.79,28.75,28.79,28.75,28.78,
28.75,28.79,28.74,28.77,28.73,28.76,28.73,28.76,28.72,28.76,28.73,28.75,28.71,28.75,28.72,28.75,28.71,28.75,28.71,28.75,28.71,28.75,28.7,28.74,28.7,
28.73,28.69,28.74,28.69,28.75,28.71,28.75,28.72,28.77,28.73,28.79,28.74,28.79,28.73,28.79,28.75,28.78,28.75,28.79,28.74,28.79,28.75,28.79,28.76,28.79,
28.75,28.79,28.75,28.79,28.74,28.78,28.73,28.79,28.75,28.79,28.73,28.78,28.74,28.79,28.75,28.79,28.73,28.77,28.74,28.77,28.75,28.77,28.74,28.79,28.82];

/* SASA: peaks and dips as [time ns, value] */
const sasaSeries=[[0,3004],[.1,3100],[.2,3147],[.3,3100],[.35,3227],[.55,3237],[.6,3165],[.85,3236],[1.15,3257],[1.5,3153],[1.75,3216],[2.15,3214],[2.4,3149],[2.6,3200],[2.9,3238],[3.1,3158],[3.3,3206],[3.7,3149],[4,3120],[4.2,3180],[4.4,3232],[4.7,3286],[4.9,3188],[5.2,3259],[5.4,3193],[5.7,3238],[6.1,3170],[6.35,3244],[6.6,3265],[7,3157],[7.2,3263],[7.75,3165],[8.1,3215],[8.4,3254],[8.6,3175],[8.75,3237],[8.85,3172],[9.4,3248],[9.9,3286],[10.1,3279],[10.3,3192],[10.75,3159],[10.95,3230],[11.5,3180],[11.85,3258],[12.2,3183],[12.6,3178],[13.1,3183],[13.4,3237],[13.7,3205],[14,3293],[14.4,3192],[15,3255],[15.25,3167],[15.7,3237],[15.9,3189],[16.4,3263],[16.9,3182],[17.2,3252],[17.6,3203],[18,3323],[18.2,3212],[18.5,3314],[19,3203],[19.5,3309],[19.7,3237],[20.25,3248],[20.4,3320],[20.8,3263],[21.2,3325],[21.85,3279],[22.2,3313],[22.6,3350],[22.9,3261],[23.2,3251],[23.4,3333],[23.85,3359],[24,3268],[24.2,3350],[24.7,3267],[25.25,3357],[25.35,3273],[26.1,3238],[26.5,3325],[26.75,3254],[27.3,3212],[27.5,3229],[27.75,3313],[28.4,3297],[29.1,3277],[29.35,3340],[29.5,3407],[29.85,3330],[30.25,3292],[30.4,3369],[31.1,3272],[31.3,3344],[31.9,3292],[32.2,3347],[32.6,3290],[33,3390],[33.2,3316],[33.6,3351],[34,3292],[34.3,3257],[34.8,3237],[35.25,3318],[35.4,3267],[35.9,3349],[36.1,3279],[36.25,3344],[36.5,3273],[37,3236],[37.2,3330],[37.6,3349],[37.8,3289],[38.5,3283],[38.8,3370],[39,3266],[39.35,3333],[39.8,3278],[40,3347],[40.5,3246],[41.15,3381],[41.5,3281],[41.8,3238],[42,3322],[42.6,3304],[43,3247],[43.5,3338],[44.2,3404],[44.5,3286],[44.65,3374],[45.1,3357],[45.6,3241],[45.8,3368],[46.25,3351],[46.5,3281],[47,3354],[47.5,3246],[47.85,3340],[48.2,3341],[48.5,3270],[49.2,3336],[49.6,3253],[50.4,3324],[50.7,3280],[51,3320],[51.3,3268],[51.6,3300],[51.9,3260],[52.2,3300],[52.5,3258],[52.9,3245],[53.1,3288],[53.2,3213],[53.4,3203],[53.6,3287],[53.8,3265],[54,3325],[54.4,3285],[54.9,3300],[55.3,3253],[55.6,3383],[55.9,3312],[56.5,3363],[57,3292],[57.3,3372],[58,3276],[58.5,3356],[59,3292],[59.3,3388],[59.7,3320],[60,3394],[60.3,3286],[60.8,3278],[61.4,3408],[61.8,3320],[62.2,3253],[63,3373],[63.5,3279],[64,3365],[64.3,3320],[64.7,3377],[65,3306],[65.4,3407],[65.7,3314],[66.1,3407],[66.7,3293],[67.1,3354],[67.5,3286],[68.1,3358],[68.5,3300],[68.9,3316],[69.4,3372],[70,3304],[70.7,3279],[71.3,3262],[71.8,3340],[72.2,3368],[72.8,3290],[73.3,3367],[73.8,3258],[74.4,3269],[75,3353],[75.3,3238],[76,3321],[76.5,3248],[77,3335],[77.5,3236],[77.8,3337],[78.5,3252],[79,3321],[79.4,3270],[79.9,3243],[80.2,3357],[80.9,3265],[81.5,3318],[82.3,3257],[82.8,3337],[83.3,3265],[84,3325],[84.6,3259],[85,3234],[85.3,3333],[86,3264],[86.6,3340],[87.5,3283],[88,3363],[88.7,3265],[89,3255],[89.3,3353],[90,3290],[91,3344],[91.7,3316],[92.3,3408],[92.7,3323],[93.1,3381],[93.7,3299],[94,3372],[94.9,3272],[95.5,3372],[96.2,3402],[96.6,3264],[97.3,3325],[97.9,3370],[98.3,3363],[98.6,3271],[99,3347],[99.5,3367],[99.7,3379],[100,3347]];
/* SASA: dense core readings at 0.2, 0.6 ... ns */
const sasaBandStart=0.2;
const sasaBandStep=0.4;
const sasaBandValues=[3140,3180,3215,3175,3225,3190,3210,3175,3205,3170,3225,3195,3230,3185,3225,3190,3220,3185,3225,3195,3220,3190,3230,3200,3225,
3200,3235,3195,3225,3200,3230,3195,3225,3190,3215,3200,3235,3205,3230,3200,3240,3210,3245,3225,3260,3240,3275,3250,3285,3260,
3285,3265,3300,3275,3305,3285,3310,3285,3305,3290,3310,3280,3305,3285,3300,3285,3305,3290,3310,3300,3325,3310,3340,3320,3350,
3320,3345,3310,3335,3305,3330,3310,3320,3295,3325,3290,3320,3290,3325,3290,3315,3285,3320,3290,3325,3285,3320,3295,3325,3290,
3320,3285,3315,3290,3320,3295,3325,3300,3335,3310,3345,3305,3335,3300,3325,3295,3320,3300,3325,3290,3320,3285,3315,3280,3305,
3280,3310,3275,3300,3270,3290,3260,3285,3255,3280,3265,3295,3285,3310,3320,3345,3315,3350,3320,3345,3325,3350,3320,3355,3325,
3350,3325,3345,3315,3350,3320,3345,3320,3355,3325,3360,3325,3355,3320,3345,3305,3335,3305,3330,3300,3330,3305,3335,3305,3325,
3295,3320,3290,3315,3285,3320,3290,3310,3280,3305,3280,3310,3275,3305,3285,3310,3280,3305,3275,3300,3285,3310,3280,3305,3285,
3310,3280,3305,3285,3310,3285,3310,3285,3305,3290,3310,3285,3315,3295,3320,3305,3325,3310,3330,3300,3325,3305,3335,3310,3330,
3320,3345,3330,3350,3325,3350,3320,3345,3310,3340,3315,3340,3305,3335,3305,3330,3310,3340,3300,3335,3310,3340,3315,3345,3330];
/* SASA: extra core readings at 0.4, 0.8 ... ns */
const sasaFillStart=0.4;
const sasaFillStep=0.4;
const sasaFillValues=[3200,3170,3220,3180,3215,3180,3225,3185,3220,3190,3215,3180,3220,3195,3215,3180,3225,3195,3215,3185,3225,3195,3220,3190,3230,
3210,3225,3200,3230,3205,3220,3190,3220,3205,3225,3195,3225,3210,3240,3210,3230,3205,3250,3230,3270,3245,3280,3260,3295,3270,
3300,3280,3295,3285,3310,3290,3300,3280,3310,3295,3300,3285,3310,3290,3305,3295,3310,3300,3320,3305,3335,3315,3345,3325,3340,
3325,3335,3315,3325,3300,3325,3295,3325,3300,3320,3295,3325,3295,3315,3285,3320,3295,3325,3285,3315,3290,3325,3300,3315,3285,
3315,3290,3320,3295,3325,3305,3330,3310,3340,3315,3335,3310,3330,3305,3320,3305,3325,3295,3315,3290,3315,3290,3310,3285,3300,
3285,3305,3280,3295,3275,3285,3265,3280,3265,3290,3280,3305,3295,3325,3330,3340,3325,3340,3330,3350,3330,3345,3330,3350,3335,
3345,3330,3340,3325,3345,3330,3350,3330,3350,3335,3350,3330,3345,3325,3335,3310,3325,3310,3325,3305,3320,3310,3325,3305,3315,
3300,3315,3295,3310,3295,3310,3285,3305,3285,3300,3290,3305,3285,3310,3290,3305,3285,3300,3285,3305,3290,3305,3290,3310,3290,
3305,3285,3310,3290,3305,3290,3305,3290,3310,3295,3315,3290,3320,3300,3325,3310,3320,3315,3325,3310,3330,3310,3325,3315,3335,
3335,3340,3335,3345,3330,3345,3325,3340,3315,3335,3320,3330,3310,3330,3310,3335,3315,3330,3310,3330,3315,3335,3320,3340,3350];

/* ---------- axis and mark helpers ---------- */
const SVG_NS='http://www.w3.org/2000/svg';

function linearScale(anchorValue,anchorPixel,pixelsPerUnit){
  return function(v){return anchorPixel+(v-anchorValue)*pixelsPerUnit;};
}

function drawSegment(parent,name,x1,y1,x2,y2,color,width){
  const seg=document.createElementNS(SVG_NS,'line');
  
  
  seg.setAttribute('x1',x1);seg.setAttribute('y1',y1);
  seg.setAttribute('x2',x2);seg.setAttribute('y2',y2);
  seg.setAttribute('stroke',color);
  seg.setAttribute('stroke-width',width);
  parent.appendChild(seg);
}

function drawLabel(parent,name,str,x,y,size,anchor,sx){
  const t=document.createElementNS(SVG_NS,'text');
  
  
  t.setAttribute('transform','translate('+x+','+y+') scale('+sx+',1)');
  t.setAttribute('font-size',size);
  t.setAttribute('text-anchor',anchor);
  t.textContent=str;
  parent.appendChild(t);
}

function drawFrame(parent,prefix,box){
  const r=document.createElementNS(SVG_NS,'rect');
  
  
  r.setAttribute('x',box.left);r.setAttribute('y',box.top);
  r.setAttribute('width',box.right-box.left);r.setAttribute('height',box.bottom-box.top);
  r.setAttribute('fill','none');
  r.setAttribute('stroke','#555');
  r.setAttribute('stroke-width','2.2');
  parent.appendChild(r);
}

function drawAxes(parent,prefix,box,xScale,yScale,xTicks,yTicks,labels){
  const len=14;
  xTicks.forEach(function(v){
    const px=xScale(v);
    drawSegment(parent,prefix+'-x-tick-'+v,px,box.bottom,px,box.bottom-len,'#333',1.5);
    drawSegment(parent,prefix+'-x-tick-top-'+v,px,box.top,px,box.top+len,'#333',1.5);
    drawLabel(parent,prefix+'-x-tick-label-'+v,String(v),px,labels.xBase,labels.xSize,'middle',labels.xScale);
  });
  yTicks.forEach(function(v){
    const py=yScale(v);
    drawSegment(parent,prefix+'-y-tick-'+v,box.left,py,box.left+len,py,'#333',1.5);
    drawSegment(parent,prefix+'-y-tick-right-'+v,box.right,py,box.right-len,py,'#333',1.5);
    drawLabel(parent,prefix+'-y-tick-label-'+v,String(v),labels.yRight,py+labels.yDrop,labels.ySize,'end',labels.yScale);
  });
}

function drawSeries(parent,name,points,xScale,yScale,color,width){
  const line=document.createElementNS(SVG_NS,'polyline');
  
  
  line.setAttribute('points',points.map(function(p){return xScale(p[0]).toFixed(1)+','+yScale(p[1]).toFixed(1);}).join(' '));
  line.setAttribute('fill','none');
  line.setAttribute('stroke',color);
  line.setAttribute('stroke-width',width);
  line.setAttribute('stroke-linejoin','round');
  parent.appendChild(line);
}

function uniformPoints(values,start,step){
  return values.map(function(v,i){return [start+i*step,v];});
}

function mergeByTime(){
  return Array.prototype.concat.apply([],arguments).sort(function(a,b){return a[0]-b[0];});
}

/* ---------- panel A: RMSD ---------- */
(function(){
  const g=document.getElementById('panel-a');
  const box={left:192,right:1366,top:88.5,bottom:884.5};
  const x=linearScale(0,243.5,10.695);
  const y=linearScale(0,884.5,-79.6);
  drawSeries(g,'complex-rmsd-line',mergeByTime(complexSeries,uniformPoints(complexBandValues,complexBandStart,complexBandStep)),x,y,'#000',4.8);
  drawSeries(g,'protein-rmsd-line',mergeByTime(uniformPoints(proteinValues,0,proteinStepNs),uniformPoints(proteinBandValues,proteinBandStart,proteinBandStep)),x,y,'#0072bd',5.2);
  drawSeries(g,'ligand-rmsd-line',mergeByTime(uniformPoints(ligandValues,0,ligandStepNs),uniformPoints(ligandBandValues,ligandBandStart,ligandBandStep),uniformPoints(ligandFillValues,ligandFillStart,ligandFillStep)),x,y,'#ff1a24',5);
  drawFrame(g,'rmsd',box);
  drawAxes(g,'rmsd',box,x,y,timeTicks,deviationTicks,{xBase:909,xSize:24,xScale:1,yRight:185,yDrop:9.5,ySize:26,yScale:.94});
})();

/* ---------- panel B: RMSF ---------- */
(function(){
  const g=document.getElementById('panel-b');
  const box={left:1548,right:2722,top:88.5,bottom:884.5};
  const x=linearScale(200,1747,1.225);
  const y=linearScale(0,884.5,-79.6);
  drawSeries(g,'rmsf-line',rmsfSeries,x,y,'#000',4.2);
  drawFrame(g,'rmsf',box);
  drawAxes(g,'rmsf',box,x,y,residueTicks,deviationTicks,{xBase:909,xSize:24,xScale:1,yRight:1541,yDrop:9.5,ySize:26,yScale:.94});
})();

/* ---------- panel C: radius of gyration ---------- */
(function(){
  const g=document.getElementById('panel-c');
  const box={left:183,right:1364,top:1045.5,bottom:1866};
  const x=linearScale(0,235.9,10.745);
  const y=linearScale(28.8,1195.2,-883);
  drawSeries(g,'gyration-line',mergeByTime(gyrationSeries,uniformPoints(gyrationBandValues,gyrationBandStart,gyrationBandStep),uniformPoints(gyrationFillValues,gyrationFillStart,gyrationFillStep)),x,y,'#000',4.8);
  drawFrame(g,'gyration',box);
  drawAxes(g,'gyration',box,x,y,timeTicks,gyrationTicks,{xBase:1893,xSize:27.5,xScale:.87,yRight:174,yDrop:9.7,ySize:27,yScale:.865});
})();

/* ---------- panel D: SASA ---------- */
(function(){
  const g=document.getElementById('panel-d');
  const box={left:1541.7,right:2721.7,top:1045.5,bottom:1866};
  const x=linearScale(0,1595,10.73);
  const y=linearScale(3400,1097.5,-1.845);
  drawSeries(g,'sasa-line',mergeByTime(sasaSeries,uniformPoints(sasaBandValues,sasaBandStart,sasaBandStep),uniformPoints(sasaFillValues,sasaFillStart,sasaFillStep)),x,y,'#000',4.8);
  drawFrame(g,'sasa',box);
  drawAxes(g,'sasa',box,x,y,timeTicks,sasaTicks,{xBase:1893,xSize:27.5,xScale:.87,yRight:1536.5,yDrop:9.7,ySize:27,yScale:.91});
})();
</script>
</body>
</html>
